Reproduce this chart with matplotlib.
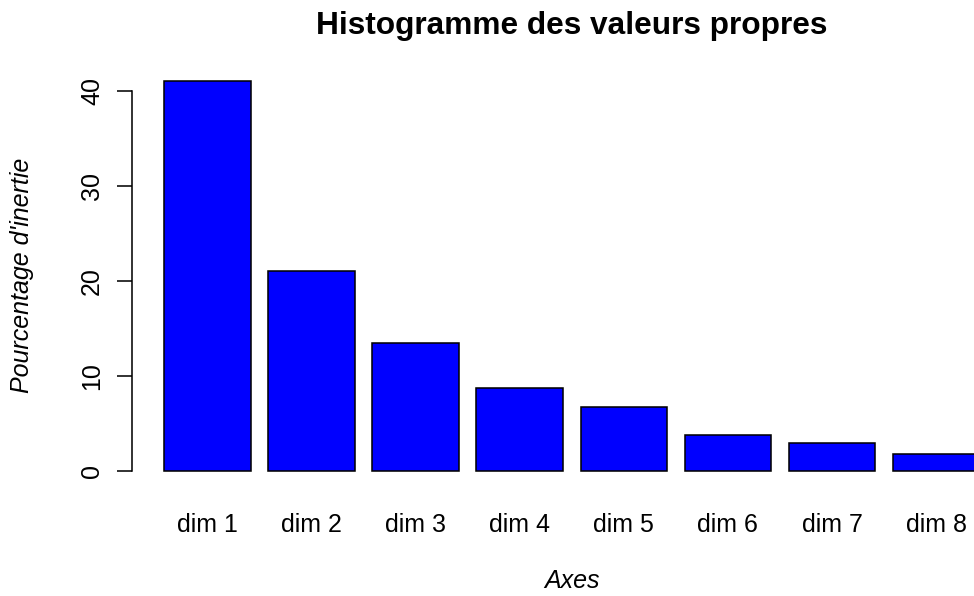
import matplotlib
matplotlib.use("Agg")
import matplotlib.pyplot as plt
import numpy as np

# inertia percentages
dims = ["dim 1", "dim 2", "dim 3", "dim 4", "dim 5", "dim 6", "dim 7", "dim 8"]
inertia = [41.02, 21.05, 13.47, 8.67, 6.74, 3.76, 2.95, 1.76]
yticks = [0, 10, 20, 30, 40]

plt.rcParams["font.family"] = ["Liberation Sans", "DejaVu Sans"]
plt.rcParams["font.size"] = 12

W, H, DPI = 974, 596, 150
fig = plt.figure(figsize=(W / DPI, H / DPI), dpi=DPI)

# plot region in pixels (R style, right edge falls outside the picture)
left_px, right_px = 131.7, 1012.0
top_px, bottom_px = 65.4, 486.3
ax = fig.add_axes([left_px / W, 1 - bottom_px / H,
                   (right_px - left_px) / W, (bottom_px - top_px) / H])

# R barplot geometry: width 1, space 0.2
n = len(inertia)
lefts = 0.2 + 1.2 * np.arange(n)
centers = lefts + 0.5
ax.bar(centers, inertia, width=1.0, color="#0000FF", edgecolor="black",
       linewidth=0.75)

xr = (lefts[0], lefts[-1] + 1.0)
ext = 0.04 * (xr[1] - xr[0])
ax.set_xlim(xr[0] - ext, xr[1] + ext)
ymax = max(inertia)
ax.set_ylim(-0.04 * ymax, ymax * 1.04)

for s in ["top", "right", "bottom"]:
    ax.spines[s].set_visible(False)
ax.spines["left"].set_bounds(yticks[0], yticks[-1])
ax.spines["left"].set_linewidth(0.75)

ax.set_yticks(yticks)
ax.set_yticklabels([str(t) for t in yticks], rotation=90, va="center")
ax.tick_params(axis="y", length=7.2, width=0.75, pad=6)
ax.set_xticks(centers)
ax.set_xticklabels(dims)
ax.tick_params(axis="x", length=0, pad=12.8)

mid_x = (left_px + right_px) / 2 / W
mid_y = 1 - (top_px + bottom_px) / 2 / H
fig.text(mid_x, 1 - 34 / H, "Histogramme des valeurs propres",
         ha="center", va="baseline", fontsize=15.2, fontweight="bold")
fig.text(mid_x, 1 - 588 / H, "Axes", ha="center", va="baseline",
         style="italic")
fig.text(22.5 / W, mid_y, "Pourcentage d'inertie", rotation=90,
         ha="center", va="center", style="italic")

fig.savefig("out.png", dpi=DPI)
